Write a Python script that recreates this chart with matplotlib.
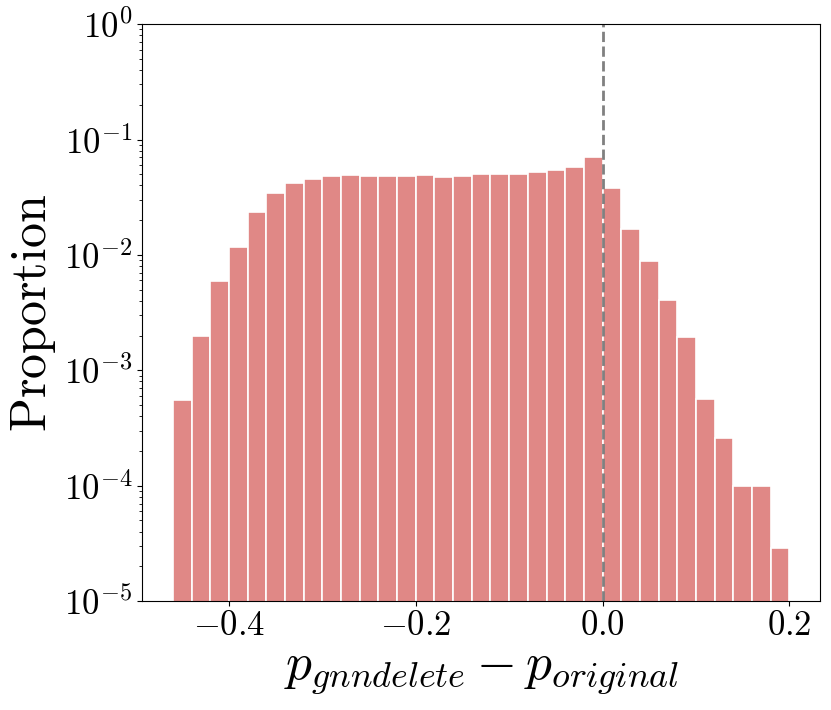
import matplotlib
matplotlib.use("Agg")
import matplotlib.pyplot as plt
from matplotlib.ticker import FuncFormatter
import numpy as np

# bin edges of the histogram (width 0.02) and the proportion in each bin
bin_left = np.round(np.arange(-0.46, 0.19, 0.02), 2)
proportion = [
    5.5e-4, 2.0e-3, 5.9e-3, 1.17e-2, 2.35e-2, 3.43e-2, 4.2e-2, 4.57e-2,
    4.82e-2, 4.92e-2, 4.82e-2, 4.82e-2, 4.82e-2, 4.92e-2, 4.7e-2, 4.82e-2,
    5.0e-2, 5.0e-2, 5.0e-2, 5.25e-2, 5.43e-2, 5.73e-2, 7.04e-2, 3.82e-2,
    1.66e-2, 8.84e-3, 4.06e-3, 1.94e-3, 5.6e-4, 2.6e-4, 1.0e-4, 1.0e-4,
    2.88e-5,
]
bin_width = 0.02
x_ticks = [-0.4, -0.2, 0.0, 0.2]

plt.rcParams["mathtext.fontset"] = "cm"
plt.rcParams["font.family"] = ["cmr10", "DejaVu Serif"]
plt.rcParams["axes.formatter.use_mathtext"] = True

fig = plt.figure(figsize=(8.31, 7.1), dpi=100)
ax = fig.add_axes([0.171, 0.1535, 0.816, 0.8125])

ax.bar(bin_left, proportion, width=bin_width, align="edge",
       color="#E08886", edgecolor="white", linewidth=1.2)
ax.axvline(0, color="gray", linestyle="--", linewidth=2)

ax.set_yscale("log")
ax.set_ylim(1e-5, 1)
ax.set_xlim(-0.493, 0.233)
ax.set_xticks(x_ticks)
ax.xaxis.set_major_formatter(FuncFormatter(lambda v, p: r"$%.1f$" % v))
ax.tick_params(axis="both", which="major", labelsize=25)

ax.set_ylabel(r"$\mathrm{Proportion}$", fontsize=36, labelpad=4)
ax.set_xlabel(r"$p_{gnndelete} - p_{original}$", fontsize=37, labelpad=6)

fig.savefig("out.png", dpi=100)
